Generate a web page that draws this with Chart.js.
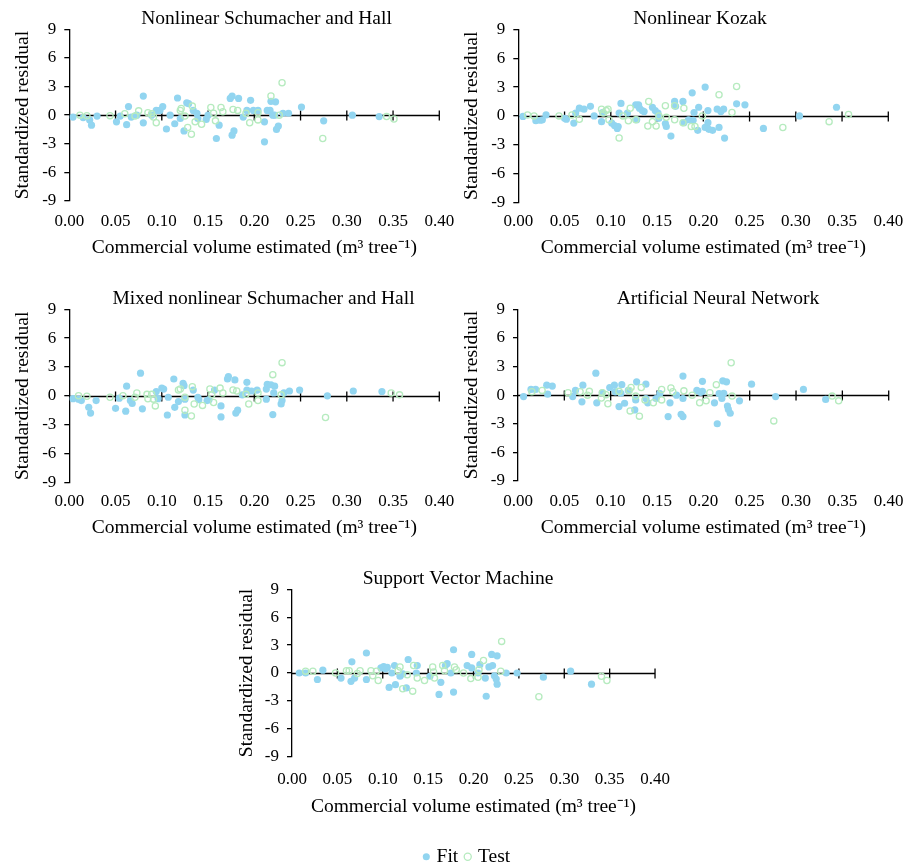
<!DOCTYPE html>
<html>
<head>
<meta charset="utf-8">
<script src="https://cdn.jsdelivr.net/npm/chart.js@4.4.0/dist/chart.umd.min.js"></script>
<style>
  html, body { margin: 0; padding: 0; background: #fff; overflow: hidden; }
  #wrap { position: relative; width: 916px; height: 867px; overflow: hidden; background: #fff; }
  canvas { position: absolute; }
</style>
</head>
<body>
<div id="wrap">
  <canvas id="p1"></canvas>
  <canvas id="p2"></canvas>
  <canvas id="p3"></canvas>
  <canvas id="p4"></canvas>
  <canvas id="p5"></canvas>
  <canvas id="lg"></canvas>
</div>
<script>
// ---------------- DATA ----------------
const panelTitles = ["Nonlinear Schumacher and Hall", "Nonlinear Kozak", "Mixed nonlinear Schumacher and Hall", "Artificial Neural Network", "Support Vector Machine"];
const seriesNames = ["Fit", "Test"];
const xAxisTitle = "Commercial volume estimated (m\u00B3 tree\u207B\u00B9)";
const yAxisTitle = "Standardized residual";
const xMin = 0, xMax = 0.40, xStep = 0.05;
const yMin = -9, yMax = 9, yStep = 3;

// Nonlinear Schumacher and Hall
const shFitX = [0.004,0.015,0.022,0.024,0.030,0.051,0.055,0.062,0.064,0.067,0.073,0.080,0.080,0.089,0.094,0.098,0.101,0.105,0.109,0.114,0.117,0.120,0.124,0.127,0.129,0.134,0.138,0.139,0.148,0.150,0.159,0.162,0.174,0.176,0.176,0.178,0.183,0.188,0.192,0.196,0.199,0.204,0.211,0.211,0.214,0.217,0.218,0.220,0.222,0.223,0.224,0.226,0.231,0.237,0.251,0.275,0.306,0.335];
const shFitY = [-0.2,-0.25,-0.5,-1.05,-0.1,-0.7,-0.1,-1.0,0.9,-0.2,0,2.0,-0.8,0,0.5,0.5,0.9,-1.45,0,-0.9,1.8,-0.35,-1.65,1.3,1.2,0.5,0.2,-0.35,-0.45,0,-2.45,-1.05,1.75,2.0,-2.1,-1.65,1.75,-0.2,0.5,1.55,0.5,0.5,-0.7,-2.8,0.5,0.5,1.45,0,0,1.4,-1.5,-1.15,0.2,0.2,0.85,-0.6,0,-0.15];
const shTestX = [0.0115,0.019,0.044,0.060,0.071,0.075,0.085,0.089,0.091,0.094,0.120,0.121,0.125,0.128,0.132,0.133,0.136,0.143,0.153,0.156,0.158,0.164,0.166,0.177,0.182,0.191,0.195,0.204,0.204,0.218,0.227,0.230,0.274,0.343,0.351];
const shTestY = [0,-0.05,-0.05,0.15,-0.1,0.45,0.25,0.15,-0.2,-0.8,0.5,0.7,-0.1,-1.3,-2.0,0.95,-0.7,-0.95,0.8,0.2,-0.6,0.8,0.35,0.6,0.5,0.2,-0.8,-0.5,0.25,2.0,0,3.4,-2.45,-0.15,-0.4];

// Nonlinear Kozak
const kzFitX = [0.005,0.019,0.024,0.026,0.030,0.050,0.052,0.060,0.062,0.066,0.071,0.078,0.082,0.090,0.091,0.101,0.104,0.107,0.108,0.109,0.111,0.118,0.127,0.128,0.130,0.131,0.134,0.136,0.145,0.148,0.151,0.152,0.159,0.160,0.165,0.169,0.170,0.178,0.179,0.184,0.188,0.189,0.190,0.194,0.195,0.202,0.202,0.205,0.205,0.206,0.210,0.215,0.217,0.219,0.222,0.223,0.236,0.245,0.265,0.304,0.344];
const kzFitY = [-0.05,-0.5,-0.45,-0.4,0.1,-0.25,-0.35,-0.75,0.3,0.8,0.7,1.0,0,-0.6,0.35,-0.75,-1.0,-1.3,-1.1,0.3,1.3,0.3,1.15,-0.4,1.15,0.8,0.55,0.45,0.9,0.55,0.3,-0.25,-0.8,-1.1,-2.1,1.5,1.0,1.5,-0.7,-0.4,2.4,-0.45,0.35,-1.5,0.9,3.0,-1.2,-0.7,0.55,-1.4,-1.5,0.7,-1.2,0.45,0.7,-2.3,1.25,1.15,-1.3,0,0.9];
const kzTestX = [0.010,0.017,0.044,0.058,0.066,0.090,0.092,0.095,0.097,0.098,0.109,0.113,0.119,0.121,0.127,0.141,0.140,0.145,0.149,0.152,0.159,0.160,0.169,0.169,0.178,0.179,0.187,0.191,0.199,0.217,0.231,0.236,0.286,0.336,0.357];
const kzTestY = [0.1,0,0,0.1,-0.35,0.7,0.3,0.55,0.7,-0.4,-2.3,0,-0.5,0.8,-0.4,1.5,-1.05,-0.6,-1.05,0,1.05,-0.15,1.05,-0.4,-0.7,0.8,-1.1,-1.1,0,2.2,0.35,3.05,-1.2,-0.6,0.15];

// Mixed nonlinear Schumacher and Hall
const mxFitX = [0.004,0.010,0.013,0.021,0.023,0.029,0.050,0.054,0.061,0.062,0.066,0.068,0.077,0.079,0.094,0.096,0.100,0.102,0.106,0.107,0.113,0.114,0.118,0.123,0.124,0.125,0.125,0.134,0.139,0.140,0.149,0.151,0.157,0.164,0.164,0.171,0.172,0.179,0.180,0.182,0.187,0.192,0.192,0.197,0.203,0.213,0.213,0.214,0.218,0.220,0.221,0.222,0.229,0.230,0.232,0.238,0.249,0.279,0.307,0.338];
const mxFitY = [-0.3,-0.35,-0.5,-1.2,-1.8,-0.5,-1.3,-0.25,-1.6,1.0,-0.5,-0.8,2.35,-1.35,0.45,-0.3,0.8,0.7,-2.0,-0.15,1.75,-1.2,-0.6,1.3,1.05,-0.35,-2.0,0.6,-0.15,-0.4,-0.5,-0.4,0.6,-1.05,-2.2,1.75,2.0,1.65,-1.8,-1.5,0.1,1.4,0.6,0.5,0.6,0.7,-0.35,1.2,1.15,-1.95,0.3,1.0,-0.85,-0.5,0.3,0.5,0.6,0,0.5,0.45];
const mxTestX = [0.010,0.019,0.044,0.058,0.071,0.073,0.084,0.085,0.089,0.091,0.093,0.118,0.120,0.125,0.125,0.132,0.133,0.135,0.144,0.152,0.154,0.156,0.163,0.166,0.177,0.181,0.191,0.194,0.204,0.204,0.220,0.229,0.230,0.277,0.348,0.357];
const mxTestY = [0,-0.05,-0.15,0,-0.15,0.3,0.15,-0.3,0.15,-0.35,-1.05,0.6,0.7,-0.15,-1.5,-2.1,0.95,-0.85,-1.0,0.7,0.1,-0.7,0.8,0.3,0.6,0.5,0.15,-0.85,-0.5,0.3,2.2,0.1,3.45,-2.25,0.3,0.1];

// Artificial Neural Network
const annFitX = [0.006,0.014,0.019,0.031,0.032,0.037,0.059,0.062,0.069,0.070,0.084,0.085,0.091,0.099,0.104,0.105,0.109,0.111,0.112,0.115,0.119,0.126,0.127,0.128,0.138,0.138,0.140,0.149,0.153,0.162,0.164,0.171,0.176,0.178,0.178,0.178,0.193,0.197,0.199,0.199,0.212,0.215,0.217,0.220,0.221,0.222,0.225,0.226,0.227,0.229,0.239,0.252,0.278,0.308,0.332];
const annFitY = [-0.15,0.6,0.6,1.05,0.1,0.95,-0.15,0.5,-0.7,1.05,2.3,-0.8,0.25,0.8,1.05,0.35,-1.2,0.2,1.1,-0.85,0.5,-1.55,-0.5,1.4,1.15,-0.35,-0.8,-0.35,0.15,-2.25,-0.8,0,-2.0,-2.25,2.0,-0.35,0.5,0.3,1.45,0.4,-0.8,-3.0,0.15,-0.35,1.5,0.2,1.4,-1.15,-1.5,-1.9,-0.6,1.15,-0.15,0.6,-0.45];
const annTestX = [0.015,0.026,0.054,0.067,0.075,0.077,0.090,0.091,0.095,0.097,0.109,0.120,0.121,0.122,0.127,0.131,0.133,0.137,0.146,0.155,0.155,0.165,0.167,0.179,0.188,0.196,0.203,0.207,0.214,0.231,0.230,0.276,0.339,0.346];
const annTestY = [0.35,0.5,0.25,0.35,0,0.4,-0.3,0.25,0.05,-0.9,0.4,0.5,-1.65,0.8,-0.1,-2.2,0.8,-0.5,-0.8,0.6,-0.5,0.75,0.35,0.45,0,-0.8,-0.6,0.25,1.1,-0.1,3.4,-2.7,-0.1,-0.6];

// Support Vector Machine
const svmFitX = [0.008,0.015,0.028,0.034,0.054,0.065,0.066,0.069,0.082,0.082,0.098,0.101,0.103,0.105,0.107,0.110,0.113,0.114,0.119,0.122,0.126,0.128,0.137,0.138,0.152,0.162,0.164,0.169,0.171,0.175,0.178,0.178,0.193,0.198,0.198,0.205,0.207,0.213,0.214,0.217,0.220,0.221,0.223,0.225,0.226,0.226,0.236,0.248,0.277,0.307,0.330];
const svmFitY = [0,0,-0.7,0.3,-0.55,-0.9,1.2,-0.55,2.15,-0.7,0.55,0.7,0.45,0.6,-1.55,0,0.8,-1.25,-0.35,-0.1,-1.6,1.45,0,0.8,-0.35,-2.3,-1.0,0.8,1.0,0,2.5,-2.05,0.8,2.0,0.55,0,0.9,-0.55,-2.5,0.65,2.0,0.8,-0.3,-0.65,1.85,-1.2,0,0,-0.45,0.2,-1.2];
const svmTestX = [0.015,0.023,0.048,0.060,0.063,0.072,0.075,0.087,0.089,0.093,0.095,0.117,0.119,0.122,0.127,0.133,0.134,0.138,0.146,0.155,0.156,0.157,0.166,0.168,0.179,0.181,0.189,0.197,0.205,0.206,0.211,0.230,0.231,0.272,0.341,0.347];
const svmTestY = [0.2,0.2,0,0.25,0.25,-0.05,0.25,0.25,-0.3,0.2,-0.8,0.25,0.65,-1.7,-0.2,-1.95,0.8,-0.55,-0.8,0.65,0.1,-0.55,0.8,0.25,0.65,0.35,0,-0.6,-0.45,0.35,1.35,0.2,3.4,-2.55,-0.35,-0.8];

// ---------------- STYLE / LAYOUT ----------------
const FONT = "'Liberation Serif', 'Times New Roman', Times, serif";
const FIT_COLOR = '#92d5f0';
const TEST_COLOR = '#b6ebbf';
const AXIS_COLOR = '#000';

// absolute page geometry of each panel
const layouts = [
  {id:'p1', L:0,     T:0,   W:533, H:262, left:69.3,  right:439.3, top:29.3,  bottom:201,   titleY:19,  yTitleX:22.5,  xTickY:221.7, xTitleY:248.3},
  {id:'p2', L:460,   T:0,   W:480, H:262, left:518.3, right:888.3, top:29.3,  bottom:202.5, titleY:19,  yTitleX:471.8, xTickY:221.7, xTitleY:248.3},
  {id:'p3', L:0,     T:280, W:527, H:262, left:69.3,  right:439.3, top:309.3, bottom:482.3, titleY:299, yTitleX:22.5,  xTickY:501.7, xTitleY:528.3},
  {id:'p4', L:458,   T:280, W:520, H:262, left:518,   right:888.7, top:309.3, bottom:481,   titleY:299, yTitleX:471.8, xTickY:501.7, xTitleY:528.3},
  {id:'p5', L:233.3, T:560, W:450, H:262, left:292.3, right:664,   top:589.3, bottom:756.7, titleY:579, yTitleX:247.5, xTickY:780,   xTitleY:806.7}
];

const panelData = [
  [shFitX, shFitY, shTestX, shTestY],
  [kzFitX, kzFitY, kzTestX, kzTestY],
  [mxFitX, mxFitY, mxTestX, mxTestY],
  [annFitX, annFitY, annTestX, annTestY],
  [svmFitX, svmFitY, svmTestX, svmTestY]
];

const zeroAxis = {
  id: 'zeroAxis',
  beforeDatasetsDraw(chart) {
    const {ctx} = chart;
    const x = chart.scales.x, y = chart.scales.y;
    const y0 = Math.round(y.getPixelForValue(0)) + 0.5;
    ctx.save();
    ctx.strokeStyle = AXIS_COLOR;
    ctx.lineWidth = 1.3;
    ctx.beginPath();
    ctx.moveTo(x.left, y0);
    ctx.lineTo(x.right, y0);
    x.ticks.forEach(t => {
      if (t.value <= xMin) return;
      const px = x.getPixelForValue(t.value);
      ctx.moveTo(px, y0 - 5);
      ctx.lineTo(px, y0 + 5);
    });
    ctx.stroke();
    ctx.restore();
  }
};

const TITLE_SIZE = 19.5, TICK_SIZE = 17;

function makePanel(g, title, d) {
  const cv = document.getElementById(g.id);
  cv.width = g.W; cv.height = g.H;
  cv.style.left = g.L + 'px'; cv.style.top = g.T + 'px';
  cv.style.width = g.W + 'px'; cv.style.height = g.H + 'px';
  const yAxisW = g.left - g.L;
  const rightW = (g.L + g.W) - g.right;
  const xAxisH = (g.T + g.H) - g.bottom;
  const tPadTop = g.titleY - g.T - TITLE_SIZE / 2;
  const tPadBottom = (g.top - g.T) - tPadTop - TITLE_SIZE;
  new Chart(cv, {
    type: 'scatter',
    data: {
      datasets: [
        { label: seriesNames[0], order: 1,
          data: d[0].map((v, i) => ({x: v, y: d[1][i]})),
          pointRadius: 3.6, pointHoverRadius: 3.6, pointBorderWidth: 0,
          backgroundColor: FIT_COLOR, borderColor: FIT_COLOR },
        { label: seriesNames[1], order: 0,
          data: d[2].map((v, i) => ({x: v, y: d[3][i]})),
          pointRadius: 3.1, pointHoverRadius: 3.1, pointBorderWidth: 1.3,
          backgroundColor: 'rgba(255,255,255,0)', borderColor: TEST_COLOR }
      ]
    },
    options: {
      responsive: false, animation: false, devicePixelRatio: 1,
      layout: { padding: 0 },
      plugins: {
        legend: { display: false },
        tooltip: { enabled: false },
        title: { display: true, text: title, color: '#000',
          font: { family: FONT, size: TITLE_SIZE, weight: 'normal', lineHeight: 1 },
          padding: { top: tPadTop, bottom: tPadBottom } }
      },
      scales: {
        x: { type: 'linear', position: 'bottom', min: xMin, max: xMax,
          afterFit: s => { s.height = xAxisH; },
          grid: { display: false, drawTicks: false },
          border: { display: false },
          ticks: { stepSize: xStep, autoSkip: false, maxRotation: 0, color: '#000',
            padding: g.xTickY - g.bottom - TICK_SIZE * 0.6,
            font: { family: FONT, size: TICK_SIZE },
            callback: v => Number(v).toFixed(2) },
          title: { display: true, text: xAxisTitle, color: '#000',
            font: { family: FONT, size: TITLE_SIZE, lineHeight: 1 },
            padding: { top: 0, bottom: (g.T + g.H) - g.xTitleY - TITLE_SIZE / 2 } } },
        y: { type: 'linear', position: 'left', min: yMin, max: yMax,
          afterFit: s => { s.width = yAxisW; },
          grid: { display: true, drawOnChartArea: false, drawTicks: true, tickLength: 5, color: AXIS_COLOR, lineWidth: 1.3 },
          border: { display: true, color: AXIS_COLOR, width: 1.3 },
          ticks: { stepSize: yStep, autoSkip: false, color: '#000', padding: 8,
            font: { family: FONT, size: TICK_SIZE } },
          title: { display: true, text: yAxisTitle, color: '#000',
            font: { family: FONT, size: TITLE_SIZE, lineHeight: 1 },
            padding: { top: g.yTitleX - g.L - TITLE_SIZE / 2, bottom: 0 } } },
        yRight: { type: 'linear', position: 'right', min: yMin, max: yMax, display: true,
          afterFit: s => { s.width = rightW; },
          grid: { display: false, drawTicks: false },
          border: { display: false },
          ticks: { display: false },
          title: { display: false } }
      }
    },
    plugins: [zeroAxis]
  });
}

layouts.forEach((g, i) => makePanel(g, panelTitles[i], panelData[i]));

// legend
(function () {
  const cv = document.getElementById('lg');
  const L = 368, T = 838, W = 200, H = 90;
  cv.width = W; cv.height = H;
  cv.style.left = L + 'px'; cv.style.top = T + 'px';
  cv.style.width = W + 'px'; cv.style.height = H + 'px';
  new Chart(cv, {
    type: 'scatter',
    data: { datasets: [
      { label: seriesNames[0], data: [], pointStyle: 'circle', backgroundColor: FIT_COLOR, borderColor: FIT_COLOR, borderWidth: 0 },
      { label: seriesNames[1], data: [], pointStyle: 'circle', backgroundColor: 'rgba(255,255,255,0)', borderColor: TEST_COLOR, borderWidth: 1.3 }
    ]},
    options: {
      responsive: false, animation: false, devicePixelRatio: 1,
      layout: { padding: 0 },
      scales: { x: { display: false }, y: { display: false } },
      plugins: {
        tooltip: { enabled: false },
        legend: { display: true, position: 'top',
          labels: { usePointStyle: true, boxWidth: 1, boxHeight: 5, padding: 9, color: '#000',
            font: { family: FONT, size: TITLE_SIZE } } }
      }
    }
  });
})();
</script>
</body>
</html>
